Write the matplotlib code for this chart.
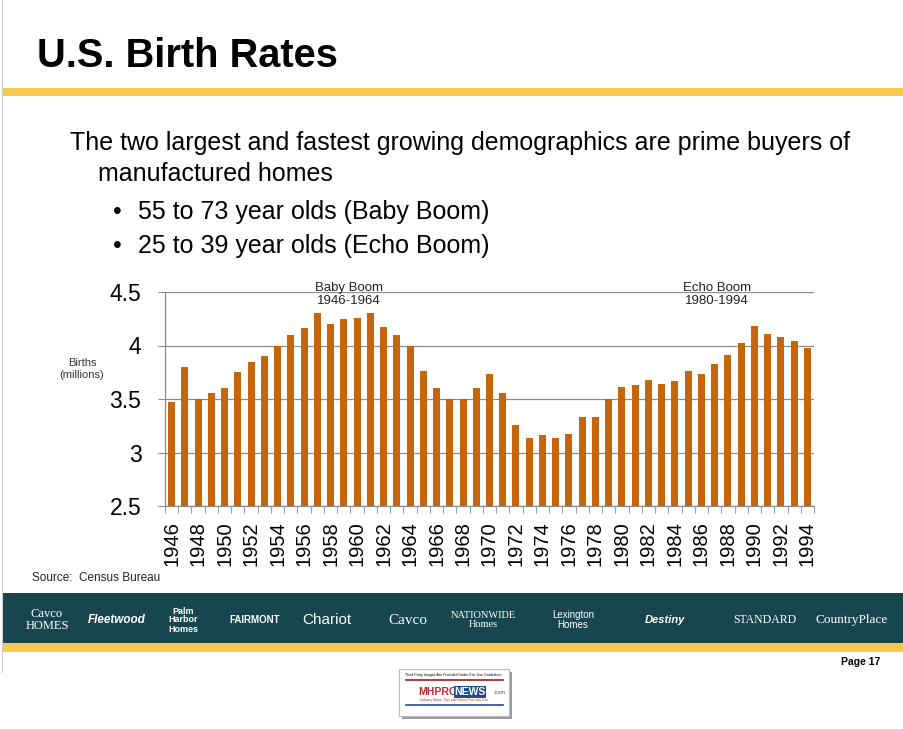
import matplotlib
matplotlib.use("Agg")
import matplotlib.pyplot as plt
from matplotlib.patches import Rectangle

plt.rcParams['font.family'] = ['Liberation Sans', 'DejaVu Sans']

# ---- data ----
years = list(range(1946, 1995))
births = [3.47, 3.80, 3.50, 3.56, 3.60, 3.75, 3.85, 3.90, 4.00, 4.10,
          4.16, 4.30, 4.20, 4.25, 4.26, 4.30, 4.17, 4.10, 4.00, 3.76,
          3.60, 3.50, 3.50, 3.60, 3.73, 3.56, 3.26, 3.14, 3.16, 3.14,
          3.17, 3.33, 3.33, 3.50, 3.61, 3.63, 3.68, 3.64, 3.67, 3.76,
          3.73, 3.83, 3.91, 4.02, 4.18, 4.11, 4.08, 4.04, 3.98]
ytick_vals = [2.5, 3, 3.5, 4, 4.5]
ytick_labels = ["2.5", "3", "3.5", "4", "4.5"]
label_years = years[::2]

title = "U.S. Birth Rates"
body_line1 = "The two largest and fastest growing demographics are prime buyers of"
body_line2 = "manufactured homes"
bullets = ["55 to 73 year olds (Baby Boom)", "25 to 39 year olds (Echo Boom)"]
source = "Source:  Census Bureau"

W, H = 904, 729
fig = plt.figure(figsize=(W / 100, H / 100), dpi=100)
fig.patch.set_facecolor("white")

# overlay in pixel coordinates
ov = fig.add_axes([0, 0, 1, 1], zorder=0)
ov.set_xlim(0, W)
ov.set_ylim(H, 0)
ov.axis("off")

gold = "#F5C94E"
teal = "#17464F"

ov.plot([2, 2], [0, 672], color="#cccccc", lw=0.8)
ov.add_patch(Rectangle((2, 88), W - 2, 8, color=gold, lw=0))
ov.text(37, 56, title, fontsize=28.7, fontweight="bold", va="center", ha="left")

bfs = 18
ov.text(70, 143, body_line1, fontsize=bfs, va="center", ha="left")
ov.text(98, 174, body_line2, fontsize=bfs, va="center", ha="left")
for i, b in enumerate(bullets):
    y = 212 + i * 34
    ov.text(113, y, "\u2022", fontsize=bfs, va="center", ha="left")
    ov.text(138, y, b, fontsize=bfs, va="center", ha="left")

ov.text(82, 369, "Births\n(millions)", fontsize=8, ha="center", va="center",
        color="#333333", linespacing=1.3)
ov.text(32, 578, source, fontsize=8.5, ha="left", va="center", color="#222222")

# footer band
ov.add_patch(Rectangle((2, 593), W - 2, 50, color=teal, lw=0))
ov.add_patch(Rectangle((2, 643), W - 2, 9, color=gold, lw=0))
logos = [
    (47, "Cavco\nHOMES", "Liberation Serif", 9, "normal"),
    (117, "Fleetwood", "Liberation Sans", 8.5, "bold"),
    (183, "Palm\nHarbor\nHomes", "Liberation Sans", 6.5, "bold"),
    (255, "FAIRMONT", "Liberation Sans", 7, "bold"),
    (327, "Chariot", "Liberation Sans", 11, "normal"),
    (408, "Cavco", "Liberation Serif", 11, "normal"),
    (483, "NATIONWIDE\nHomes", "Liberation Serif", 7.5, "normal"),
    (573, "Lexington\nHomes", "Liberation Sans", 7, "normal"),
    (665, "Destiny", "Liberation Sans", 8, "bold"),
    (765, "STANDARD", "Liberation Serif", 8.5, "normal"),
    (852, "CountryPlace", "Liberation Serif", 9.5, "normal"),
]
for x, t, fam, fs, fw in logos:
    ov.text(x, 620, t, fontsize=fs, family=fam, fontweight=fw, color="white",
            ha="center", va="center", linespacing=1.0,
            style="italic" if t in ("Fleetwood", "Destiny") else "normal")

ov.text(880, 662, "Page 17", fontsize=7.5, fontweight="bold", ha="right", va="center")

# MHPRONEWS box
ov.add_patch(Rectangle((402, 672), 110, 47, facecolor="#9a9a9a", lw=0))
ov.add_patch(Rectangle((399, 669), 110, 47, facecolor="white", edgecolor="#bbbbbb", lw=0.8))
ov.text(454, 675, "Third Party Images Are Provided Under Fair Use Guidelines.", fontsize=2.6,
        ha="center", va="center")
ov.plot([406, 503], [680, 680], color="#9b1b1b", lw=1.2)
ov.text(438, 692, "MHPRO", fontsize=7.5, fontweight="bold", color="#c0272d", ha="center", va="center")
ov.text(470, 692, "NEWS", fontsize=7.5, fontweight="bold", color="white", ha="center", va="center",
        bbox=dict(facecolor="#1f4e8c", edgecolor="none", pad=0.6))
ov.text(494, 693, ".com", fontsize=4, color="#1f4e8c", ha="left", va="center")
ov.text(454, 700, "Industry News, Tips and Views Pros can Use", fontsize=2.4, color="#c0272d",
        ha="center", va="center")
ov.plot([406, 503], [705, 705], color="#1f4e8c", lw=1.2)

# chart axes
L, R, T, B = 165, 814, 292, 506
ax = fig.add_axes([L / W, 1 - B / H, (R - L) / W, (B - T) / H], zorder=1)
ax.patch.set_alpha(0)
ax.bar(years, births, width=0.53, color="#C5660C", zorder=3)
ax.set_ylim(2.5, 4.5)
ax.set_xlim(years[0] - 0.5, years[-1] + 0.5)
ax.set_yticks(ytick_vals)
ax.set_yticklabels(ytick_labels, fontsize=16.5)
ax.grid(axis="y", color="#8c8c8c", lw=0.9, zorder=0)
ax.set_axisbelow(True)
for s in ["top", "right"]:
    ax.spines[s].set_visible(False)
for s in ["left", "bottom"]:
    ax.spines[s].set_color("#8c8c8c")
    ax.spines[s].set_linewidth(0.9)
ax.tick_params(axis="y", length=5, color="#8c8c8c", pad=12)
ax.set_xticks(label_years)
ax.set_xticklabels([str(y) for y in label_years], rotation=90, fontsize=14.5)
ax.tick_params(axis="x", which="major", length=0, pad=11)
ax.set_xticks([y - 0.5 for y in years] + [years[-1] + 0.5], minor=True)
ax.tick_params(axis="x", which="minor", length=5, color="#8c8c8c")

ax.text(1959.4, 1.048, "Baby Boom\n1946-1964", transform=ax.get_xaxis_transform(),
        ha="center", va="top", fontsize=9.5, color="#222222", linespacing=1.1)
ax.text(1987.2, 1.048, "Echo Boom\n1980-1994", transform=ax.get_xaxis_transform(),
        ha="center", va="top", fontsize=9.5, color="#222222", linespacing=1.1)

fig.savefig("out.png", dpi=100)
